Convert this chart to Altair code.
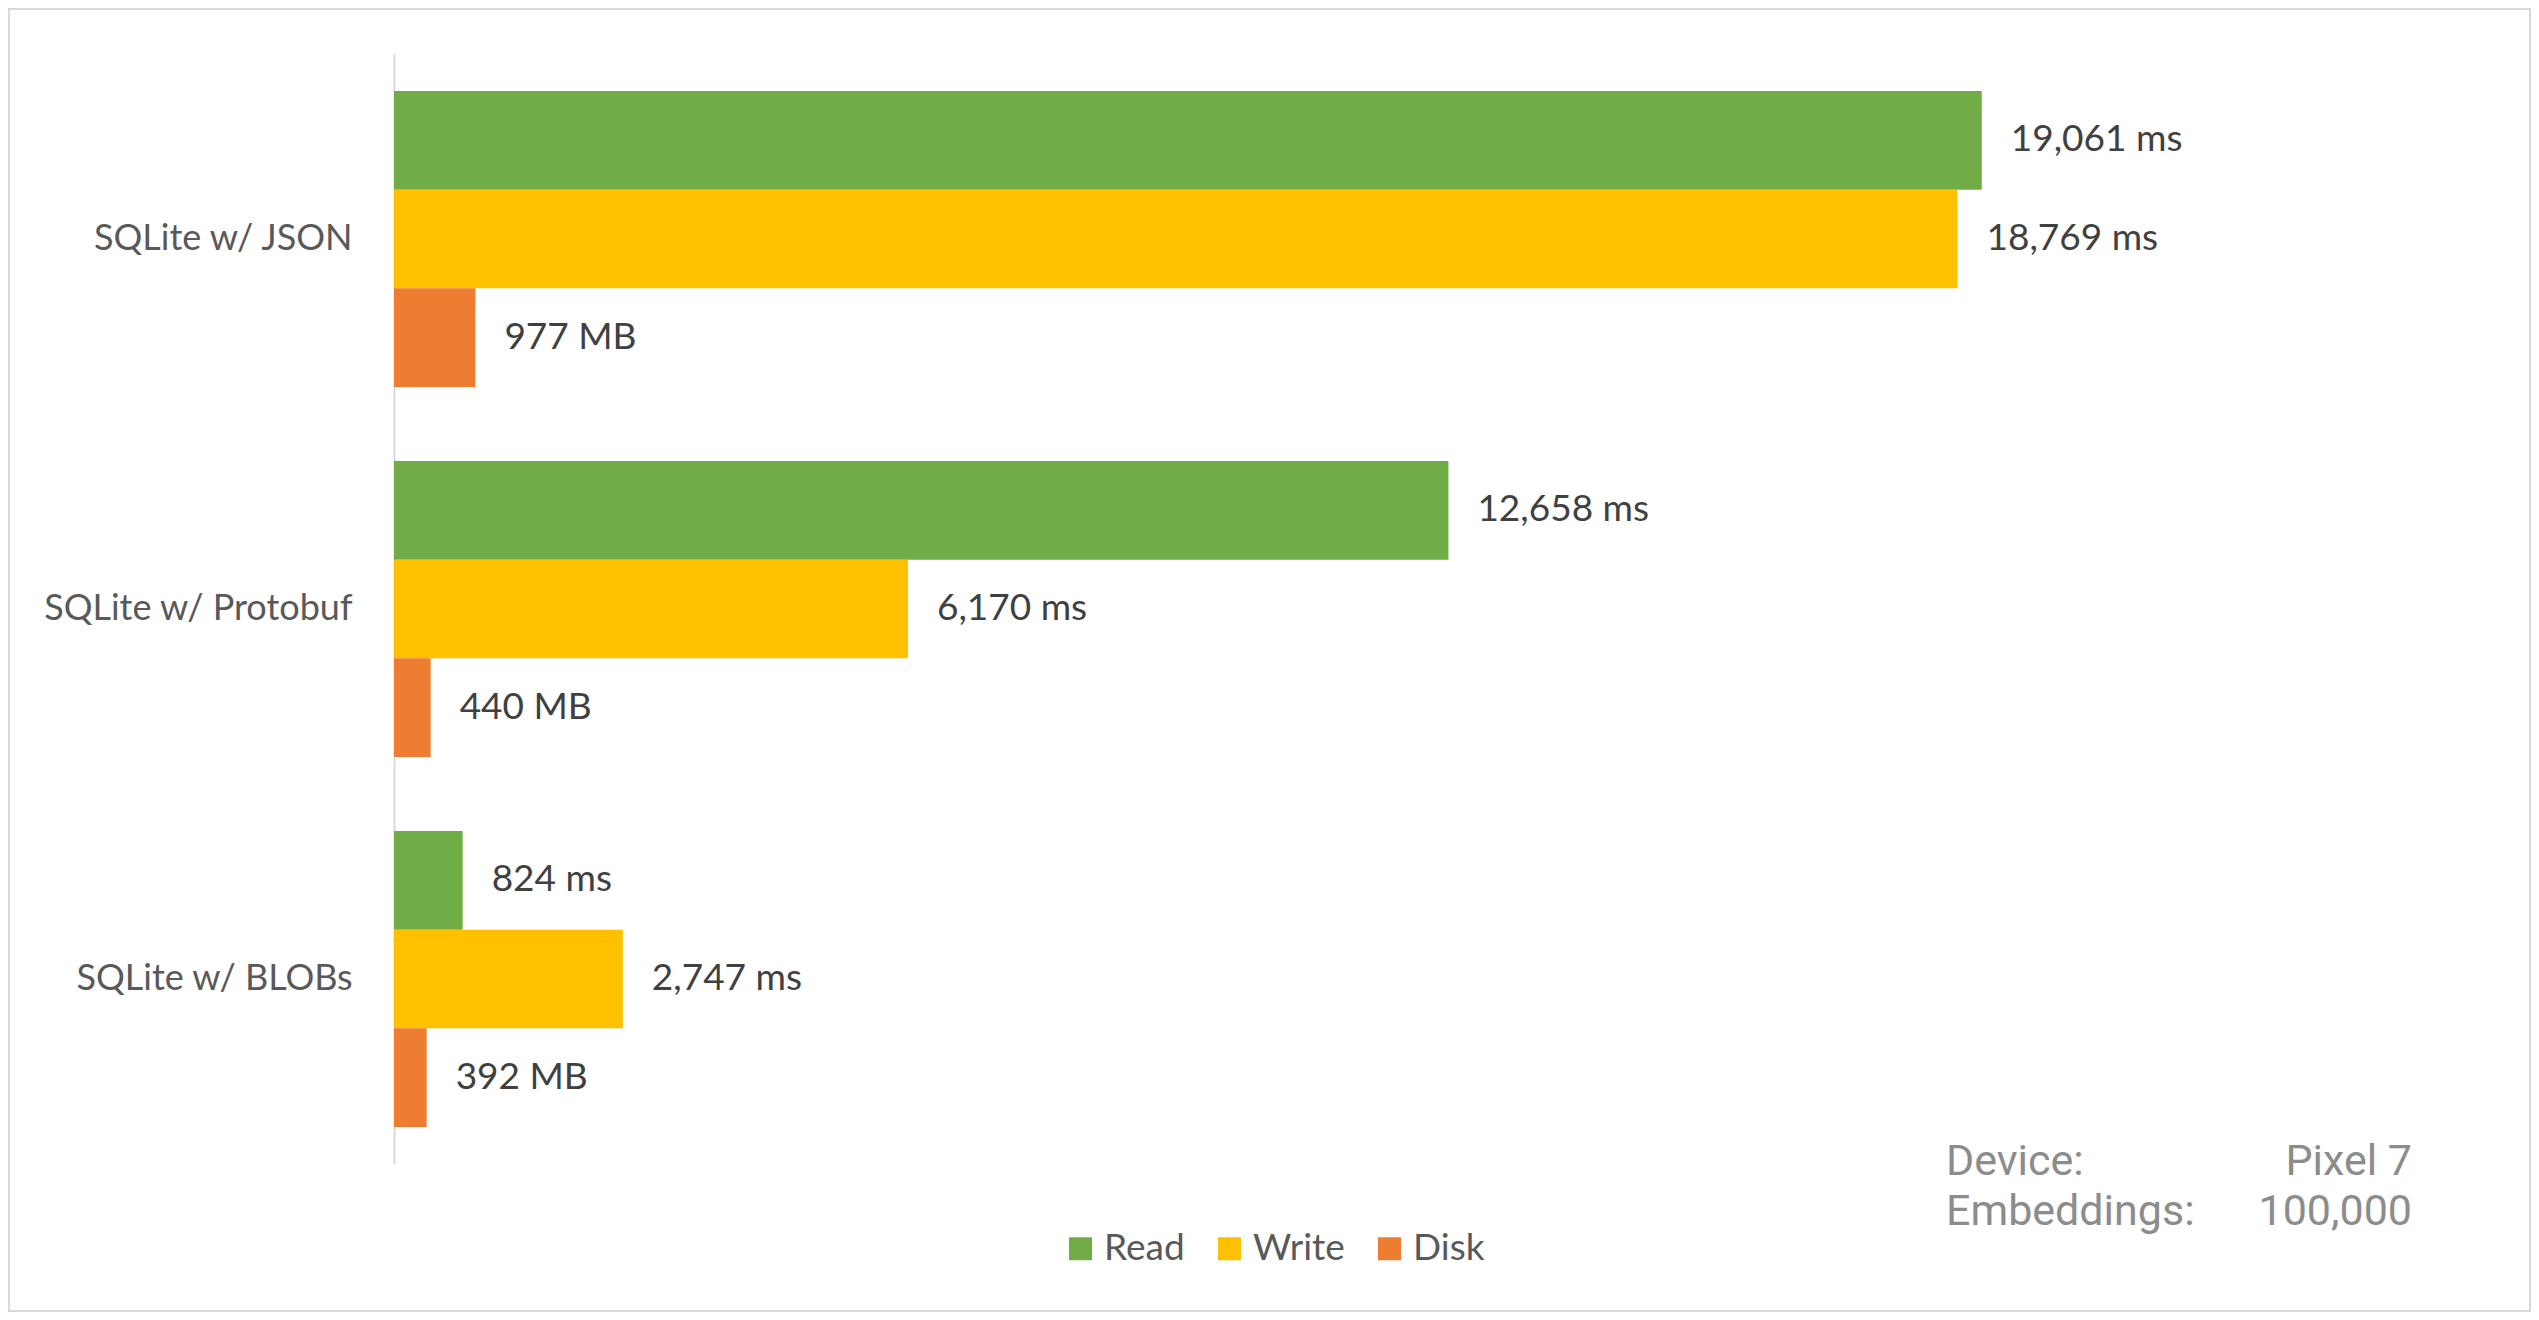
import altair as alt
import pandas as pd

categories = ["SQLite w/ JSON", "SQLite w/ Protobuf", "SQLite w/ BLOBs"]
series = ["Read", "Write", "Disk"]
units = ["ms", "ms", "MB"]
read_vals = [19061, 12658, 824]
write_vals = [18769, 6170, 2747]
disk_vals = [977, 440, 392]
colors = ["#70AD47", "#FFC000", "#ED7D31"]

meta_keys = ["Device:", "Embeddings:"]
meta_vals = ["Pixel 7", "100,000"]

rows = []
for i, c in enumerate(categories):
    for s, u, vals in zip(series, units, [read_vals, write_vals, disk_vals]):
        rows.append({"category": c, "series": s, "value": vals[i],
                     "label": f"{vals[i]:,} {u}"})
df = pd.DataFrame(rows)

W, H = 1666, 1110
PL, PT = 386, 46
PR = 2523 - PL - W
PB = 1304 - PT - H

y_enc = alt.Y("category:N", sort=categories, title=None,
              scale=alt.Scale(paddingInner=0.2, paddingOuter=0.1),
              axis=alt.Axis(domainColor="#d9d9d9", domainWidth=2, ticks=False,
                            labelPadding=42, labelFont="Lato", labelFontSize=36,
                            labelColor="#595959", grid=False, labelLimit=0))
yoff = alt.YOffset("series:N", sort=series,
                   scale=alt.Scale(paddingInner=0, paddingOuter=0))
x_enc = alt.X("value:Q", axis=None, scale=alt.Scale(domain=[0, 20000], nice=False))

base = alt.Chart(df)
bars = base.mark_bar().encode(
    x=x_enc, y=y_enc, yOffset=yoff,
    color=alt.Color("series:N", sort=series,
                    scale=alt.Scale(domain=series, range=colors),
                    legend=alt.Legend(title=None, orient="none", direction="horizontal",
                                      legendX=668, legendY=1176,
                                      symbolType="square", symbolSize=529,
                                      symbolStrokeWidth=0, symbolOpacity=1,
                                      labelFont="Lato", labelFontSize=37,
                                      labelColor="#595959", labelOffset=5,
                                      columnPadding=26)),
)
labels = base.mark_text(align="left", baseline="middle", dx=29, font="Lato",
                        fontSize=37, color="#404040").encode(
    x=x_enc, y=y_enc, yOffset=yoff, text="label:N")

meta_layers = []
for i, (k, v) in enumerate(zip(meta_keys, meta_vals)):
    d = alt.Data(values=[{"k": k, "v": v}])
    meta_layers.append(alt.Chart(d).mark_text(
        align="left", baseline="alphabetic", font="Roboto", fontSize=43, color="#8c8c8c"
    ).encode(x=alt.value(1552), y=alt.value(1121 + 50 * i), text="k:N"))
    meta_layers.append(alt.Chart(d).mark_text(
        align="right", baseline="alphabetic", font="Roboto", fontSize=43, color="#8c8c8c"
    ).encode(x=alt.value(2018), y=alt.value(1121 + 50 * i), text="v:N"))

frame = alt.Chart(alt.Data(values=[{}])).mark_rect(
    fill=None, fillOpacity=0, stroke="#d9d9d9", strokeWidth=2).encode(
    x=alt.value(-PL + 1), x2=alt.value(W + PR - 1),
    y=alt.value(-PT + 1), y2=alt.value(H + PB - 1))

chart = alt.layer(frame, bars, labels, *meta_layers).properties(
    width=W, height=H, autosize="none",
    padding={"left": PL, "top": PT, "right": PR, "bottom": PB},
    background="white",
).configure_view(stroke=None)

chart.save("out.html", embed_options={"renderer": "svg", "actions": False})
